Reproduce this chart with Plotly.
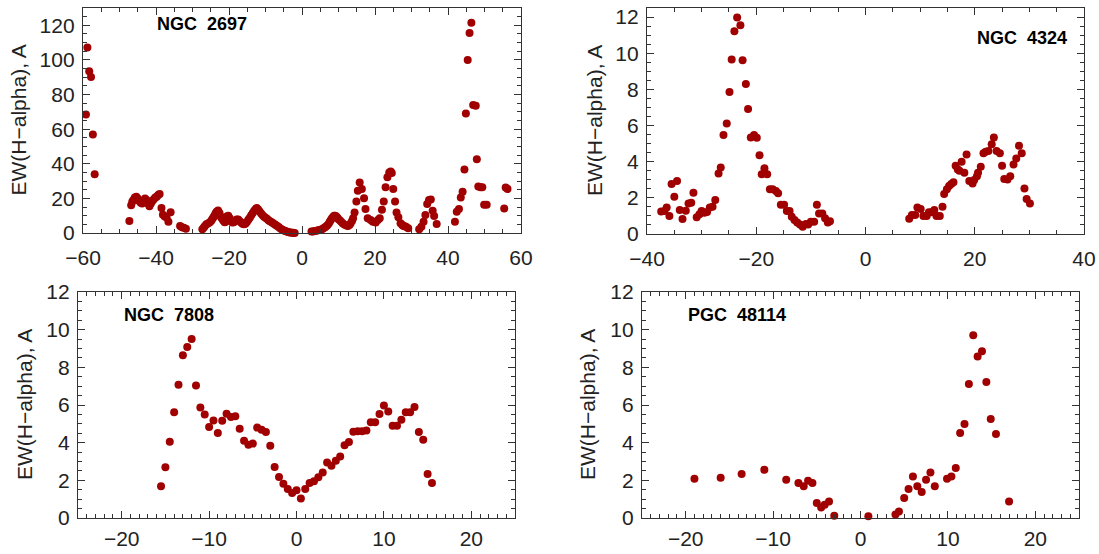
import plotly.graph_objects as go

# ---------------- data ----------------
# NGC 2697
ngc2697_x = [-59.2, -58.8, -58.3, -57.8, -57.3, -56.8,
             -47.3, -46.8, -46.5, -46.2, -45.8, -45.4, -45.0, -44.6, -44.2, -43.8,
             -43.4, -43.0, -42.6, -42.2, -41.8, -41.4, -41.0, -40.6, -40.2, -39.8,
             -39.4, -39.0, -38.5, -38.1, -37.6, -37.1, -36.6, -36.0,
             -33.4, -32.9, -32.4, -31.8,
             -27.3, -26.9, -26.6, -26.2, -25.8, -25.3, -24.9, -24.6, -24.3, -24.0,
             -23.7, -23.4, -23.0, -22.6, -22.3, -22.0, -21.6, -21.2, -20.9, -20.6,
             -20.2, -19.8, -19.5, -19.1, -18.7, -18.3, -17.9, -17.5, -17.1, -16.7,
             -16.3, -15.9, -15.5, -15.1, -14.7, -14.3, -13.9, -13.5, -13.1, -12.7,
             -12.4, -12.0, -11.6, -11.2, -10.8, -10.4, -10.0, -9.6, -9.2, -8.8,
             -8.4, -8.0, -7.6, -7.2, -6.8, -6.4, -6.0, -5.6, -5.2, -4.8,
             -4.4, -4.0, -3.6, -3.2, -2.8, -2.4, -2.0,
             2.6, 3.0, 3.5, 4.0, 4.4, 4.9, 5.3, 5.7, 6.1, 6.5, 6.9, 7.3, 7.6, 7.9,
             8.2, 8.5, 8.8, 9.1, 9.4, 9.7, 10.0, 10.4, 10.8, 11.2, 11.7, 12.2, 12.6,
             13.0, 13.3, 13.7, 14.0, 14.4, 14.9, 15.3, 15.8, 16.4, 17.0, 17.4, 18.0,
             18.8, 19.4, 20.2, 20.8, 21.3, 21.9, 22.4, 22.9, 23.4, 23.9, 24.3, 24.6,
             25.0, 25.5, 25.9, 26.4, 27.0, 27.4, 27.7, 28.1, 28.5, 29.1,
             32.1, 32.7, 33.3, 33.8, 34.3, 34.8, 35.3, 35.8, 36.2, 36.9,
             41.9, 42.4, 43.0, 43.5, 44.0, 44.5, 44.9, 45.4, 45.9, 46.4, 46.9, 47.6,
             47.9, 48.3, 48.9, 49.4, 49.9, 50.6,
             55.4, 55.8, 56.3]
ngc2697_y = [68.4, 107.2, 93.4, 90.1, 56.9, 34.0,
             7.0, 16.0, 18.0, 19.0, 20.5, 21.0, 20.0, 18.5, 17.5, 17.0,
             18.5, 20.0, 19.0, 17.0, 15.5, 17.0, 18.5, 19.5, 20.5, 21.0,
             22.0, 22.5, 14.5, 10.5, 9.5, 9.0, 6.5, 12.0,
             4.0, 3.3, 3.0, 2.5,
             2.1, 3.2, 4.0, 5.0, 5.5, 6.0, 7.0, 8.0, 9.0, 10.0,
             11.2, 12.3, 13.0, 11.5, 9.5, 8.5, 7.2, 6.2, 6.5, 9.5,
             10.0, 8.5, 7.2, 6.0, 6.2, 7.0, 7.8, 7.8, 7.0, 6.0,
             5.4, 5.0, 5.3, 6.3, 7.6, 8.8, 10.2, 11.6, 12.8, 13.8,
             14.5, 13.6, 12.4, 11.2, 10.2, 9.4, 8.8, 8.2, 7.4, 6.8,
             6.3, 5.8, 5.2, 4.6, 4.0, 3.4, 2.8, 2.2, 1.7, 1.3,
             1.0, 0.7, 0.5, 0.3, 0.2, 0.1, 0.0,
             0.8, 0.9, 1.1, 1.3, 1.6, 1.8, 2.0, 2.4, 3.0, 3.6, 4.3, 5.4, 6.5, 7.5,
             8.5, 9.3, 10.0, 10.0, 9.5, 8.8, 8.0, 7.2, 6.3, 5.5, 4.7, 4.3, 4.0,
             4.6, 5.5, 7.0, 8.5, 11.8, 18.2, 24.4, 29.2, 25.4, 20.1, 13.8, 8.5,
             7.5, 6.5, 6.0, 7.5, 8.5, 13.4, 18.2, 26.5, 32.2, 35.0, 35.5, 34.6,
             25.4, 18.2, 11.8, 9.1, 5.6, 4.8, 4.2, 3.9, 3.6, 2.7,
             2.1, 3.6, 6.5, 10.4, 16.7, 19.0, 19.4, 12.9, 9.8, 5.2,
             6.5, 12.3, 13.8, 20.5, 23.8, 36.7, 69.0, 100.0, 115.5, 121.5, 74.0, 73.5,
             42.6, 26.9, 26.5, 26.5, 16.3, 16.3,
             14.2, 26.3, 25.4]

# NGC 4324
ngc4324_x = [-37.4, -36.8, -36.4, -35.9, -35.5, -35.0, -34.5, -34.0, -33.5, -32.9,
             -32.4, -31.9, -31.5, -30.9, -30.4, -30.0, -29.5, -29.0, -28.5, -28.0,
             -27.5, -26.9, -26.5, -26.0, -25.4, -24.9, -24.5, -24.0, -23.5, -22.9,
             -22.5, -21.9, -21.5, -21.0, -20.4, -19.9, -19.4, -19.0, -18.5, -18.0,
             -17.5, -17.0, -16.4, -16.0, -15.5, -14.9, -14.4, -13.9, -13.5, -13.0,
             -12.5, -12.0, -11.5, -10.9, -10.5, -10.0, -9.4, -8.9, -8.5, -7.9,
             -7.4, -6.9, -6.5,
             8.0, 8.5, 9.1, 9.5, 10.1, 10.6, 11.2, 11.6, 12.1, 12.6, 13.0, 13.6,
             14.1, 14.4, 14.9, 15.3, 15.7, 16.1, 16.5, 16.9, 17.2, 17.6, 18.1, 18.5,
             19.0, 19.6, 19.9, 20.4, 20.6, 21.1, 21.6, 22.0, 22.5, 23.1, 23.5, 24.0,
             24.6, 25.0, 25.4, 26.0, 26.5, 27.1, 27.6, 28.1, 28.6, 29.1, 29.5, 30.1]
ngc4324_y = [1.25, 1.27, 1.47, 0.99, 2.76, 2.06, 2.93, 1.33, 0.83, 1.29,
             1.69, 1.73, 2.28, 0.92, 1.09, 1.27, 1.18, 1.21, 1.47, 1.51,
             1.88, 3.35, 3.68, 5.47, 6.11, 7.86, 9.65, 11.22, 11.97, 11.55,
             9.61, 8.29, 6.91, 5.34, 5.47, 5.32, 4.35, 3.31, 3.63, 3.31,
             2.47, 2.47, 2.38, 2.25, 1.62, 1.62, 1.27, 1.27, 0.96, 0.77,
             0.63, 0.53, 0.40, 0.55, 0.53, 0.68, 0.68, 1.62, 1.14, 1.14,
             0.87, 0.63, 0.70,
             0.85, 1.05, 1.05, 1.47, 1.38, 0.99, 0.99, 1.20, 1.20, 1.33, 0.99, 0.99,
             1.51, 2.21, 2.47, 2.65, 2.76, 2.86, 3.77, 3.57, 3.50, 3.99, 3.39, 4.40,
             2.93, 2.80, 2.98, 3.20, 3.39, 3.72, 4.46, 4.55, 4.59, 4.97, 5.34, 4.59,
             4.46, 3.77, 3.04, 3.02, 3.20, 3.85, 4.18, 4.88, 4.46, 2.52, 1.93, 1.69]

# NGC 7808
ngc7808_x = [-15.5, -15.0, -14.5, -14.0, -13.5, -13.0, -12.5, -12.0, -11.5, -11.0,
             -10.5, -10.0, -9.5, -9.0, -8.5, -8.0, -7.5, -7.0, -6.5, -6.0,
             -5.5, -5.0, -4.5, -4.0, -3.5, -3.0, -2.5, -2.0, -1.5, -1.0,
             -0.5, 0.0, 0.5, 1.0, 1.5, 2.0, 2.5, 3.0, 3.5, 4.0,
             4.5, 5.0, 5.5, 6.0, 6.5, 7.0, 7.5, 8.0, 8.5, 9.0,
             9.5, 10.0, 10.5, 11.0, 11.5, 12.0, 12.5, 13.0, 13.5, 14.0,
             14.5, 15.0, 15.5]
ngc7808_y = [1.68, 2.69, 4.05, 5.61, 7.08, 8.64, 9.08, 9.50, 7.03, 5.87,
             5.49, 4.83, 5.18, 4.51, 5.17, 5.54, 5.36, 5.40, 4.74, 4.10,
             3.89, 3.95, 4.80, 4.69, 4.56, 3.84, 2.71, 2.18, 1.82, 1.54,
             1.33, 1.47, 1.04, 1.54, 1.86, 1.95, 2.16, 2.42, 2.95, 2.78,
             3.04, 3.27, 3.86, 4.04, 4.58, 4.60, 4.60, 4.65, 5.08, 5.08,
             5.52, 5.98, 5.65, 4.90, 4.90, 5.22, 5.61, 5.61, 5.89, 4.56,
             4.16, 2.33, 1.86]

# PGC 48114
pgc48114_x = [-19.0, -16.0, -13.6, -11.0, -8.5, -7.1, -6.5, -6.0, -5.5, -5.0,
              -4.5, -4.1, -3.6, -3.0, 0.9, 4.0, 4.4, 5.0, 5.5, 6.0,
              6.5, 7.0, 7.5, 8.0, 8.5, 9.9, 10.4, 10.9, 11.4, 11.9,
              12.4, 12.9, 13.4, 13.9, 14.4, 14.9, 15.5, 17.0]
pgc48114_y = [2.09, 2.14, 2.33, 2.56, 2.03, 1.86, 1.68, 1.98, 1.86, 0.80,
              0.56, 0.71, 0.88, 0.12, 0.09, 0.18, 0.35, 1.06, 1.54, 2.21,
              1.68, 1.38, 2.03, 2.42, 1.68, 2.09, 2.21, 2.65, 4.51, 4.99,
              7.11, 9.70, 8.58, 8.85, 7.22, 5.26, 4.46, 0.88]

panel_names = ["NGC  2697", "NGC  4324", "NGC  7808", "PGC  48114"]
y_title = "EW(H\u2212alpha), A"

# ---------------- figure ----------------
W, H = 1099, 554
RED = "#a00000"
AX = "#333333"
FONT = "Liberation Sans"

def px_x(p):
    return p / W

def px_y(p):
    return 1 - p / H

# panel boxes in pixels: (left, right, top, bottom)
boxes = [(83, 521, 8, 233), (647, 1084, 8, 234), (78, 515, 292, 518), (642, 1079, 292, 518)]
xranges = [[-60, 60], [-40, 40], [-25, 25], [-25, 25]]
yranges = [[0, 130], [0, 12.5], [0, 12], [0, 12]]
xdt = [(20, 5), (20, 5), (10, 1), (10, 1)]
ydt = [(20, 5), (2, 0.5), (2, 0.5), (2, 0.5)]
xstand = [6, 6, 2, 2]
data = [(ngc2697_x, ngc2697_y), (ngc4324_x, ngc4324_y),
        (ngc7808_x, ngc7808_y), (pgc48114_x, pgc48114_y)]

fig = go.Figure()
layout = dict(width=W, height=H, autosize=False,
              margin=dict(l=0, r=0, t=0, b=0, pad=0, autoexpand=False),
              paper_bgcolor="white", plot_bgcolor="white", showlegend=False)

for i in range(4):
    n = "" if i == 0 else str(i + 1)
    l, r, t, b = boxes[i]
    common = dict(showgrid=False, zeroline=False, showline=True, linecolor=AX,
                  linewidth=1.3, mirror="ticks", ticks="inside", tickcolor=AX,
                  tickwidth=1.2, ticklen=7, automargin=False,
                  tickfont=dict(family=FONT, size=21, color="#222222"))
    layout["xaxis" + n] = dict(common, domain=[px_x(l), px_x(r)], range=xranges[i],
                               anchor="y" + n, tick0=0, dtick=xdt[i][0],
                               ticklabelstandoff=xstand[i],
                               minor=dict(ticks="inside", ticklen=3.5, tickcolor=AX,
                                          tickwidth=1, dtick=xdt[i][1], tick0=0))
    layout["yaxis" + n] = dict(common, domain=[px_y(b), px_y(t)], range=yranges[i],
                               anchor="x" + n, tick0=0, dtick=ydt[i][0],
                               ticklabelstandoff=3,
                               minor=dict(ticks="inside", ticklen=3.5, tickcolor=AX,
                                          tickwidth=1, dtick=ydt[i][1], tick0=0))
    xs, ys = data[i]
    fig.add_trace(go.Scatter(x=xs, y=ys, mode="markers", xaxis="x" + n, yaxis="y" + n,
                             marker=dict(color=RED, size=8, line=dict(width=0)),
                             cliponaxis=False))

fig.update_layout(**layout)

# y-axis titles
title_pos = [(18, 120.5), (594, 121), (24, 405), (587, 405)]
for (xp, yp) in title_pos:
    fig.add_annotation(text=y_title, xref="paper", yref="paper", x=px_x(xp), y=px_y(yp),
                       textangle=-90, showarrow=False, xanchor="center", yanchor="middle",
                       font=dict(family=FONT, size=21, color="#222222"))

# panel labels
label_pos = [(155, 24), (975, 38), (122, 315), (686, 315)]
for name, (xp, yp) in zip(panel_names, label_pos):
    fig.add_annotation(text="<b>" + name + "</b>", xref="paper", yref="paper",
                       x=px_x(xp), y=px_y(yp), showarrow=False, xanchor="left",
                       yanchor="middle", font=dict(family=FONT, size=18, color="black"))

fig.write_html("out.html")
